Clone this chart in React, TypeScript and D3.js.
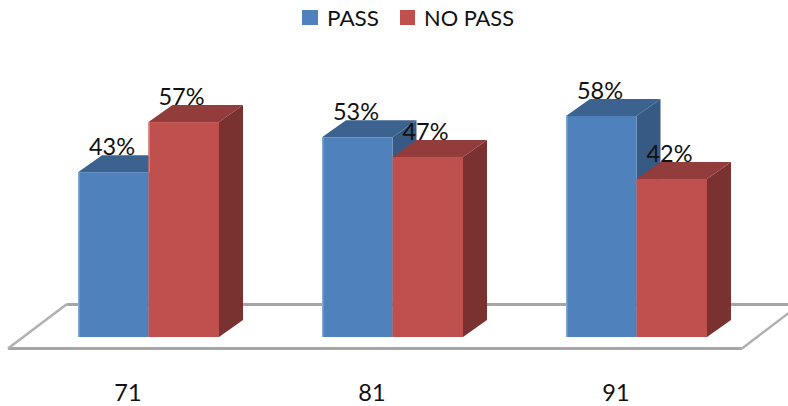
import React from "react";
import * as d3 from "d3";

const categories = ["71", "81", "91"];
const passValues = [43.4, 52.6, 58.2];
const noPassValues = [56.6, 47.4, 41.6];
const seriesNames = ["PASS", "NO PASS"];
const FONT = "Lato, 'Open Sans', sans-serif";

const W = 788, H = 406;
const base = 337, dx = 24, dy = 17;
const y = d3.scaleLinear().domain([0, 58.2]).range([base, 116]);
const groupX = d3.scalePoint<string>().domain(categories).range([78, 566]);
const colors = [
  { front: "#4f81bd", top: "#3c6390", side: "#375a84", edge: "#84a7d1" },
  { front: "#c0504d", top: "#923d3b", side: "#7a3230", edge: "#d67a77" },
];

function Bar({ x, w, v, c, edgeTo }: any) {
  const t = y(v);
  const edgeBottom = Math.max(t, edgeTo);
  return (
    <g>
      <path d={`M${x + w},${base}L${x + w + dx},${base - dy}L${x + w + dx},${t - dy}L${x + w},${t}Z`} fill={c.side} />
      <path d={`M${x},${t}L${x + dx},${t - dy}L${x + w + dx},${t - dy}L${x + w},${t}Z`} fill={c.top} />
      <rect x={x} y={t} width={w} height={base - t} fill={c.front} />
      <rect x={x} y={t} width={1.5} height={edgeBottom - t} fill={c.edge} />
    </g>
  );
}

export default function App() {
  const barW = 70.5;
  const fmt = (v: number) => `${Math.round(v)}%`;
  return (
    <svg width={W} height={H} viewBox={`0 0 ${W} ${H}`} style={{ position: "absolute", left: 0, top: 0, background: "#fff" }} fontFamily={FONT}>
      <g fill="none" stroke="#a6a6a6" strokeWidth={3}>
        <path d="M67,304.5L788,304.5" />
        <path d="M8,348.5L742,348.5" />
        <path d="M8,348.5L67,304" strokeWidth={2.5} stroke="#b0b0b0" />
        <path d="M742,348.5L790,312" strokeWidth={2.5} stroke="#b0b0b0" />
      </g>
      {categories.map((c, i) => {
        const left = groupX(c)!;
        return (
          <g key={c}>
            <Bar x={left} w={barW} v={passValues[i]} c={colors[0]} edgeTo={base} />
            <Bar x={left + barW} w={barW} v={noPassValues[i]} c={colors[1]} edgeTo={y(passValues[i])} />
            <text x={left + 34} y={y(passValues[i]) - 17} textAnchor="middle" fontSize={23.5} fill="#111">{fmt(passValues[i])}</text>
            <text x={left + barW + 33} y={y(noPassValues[i]) - 17} textAnchor="middle" fontSize={23.5} fill="#111">{fmt(noPassValues[i])}</text>
            <text x={left + 50} y={401} textAnchor="middle" fontSize={23.5} fill="#111">{c}</text>
          </g>
        );
      })}
      <rect x={302} y={10} width={16} height={15} fill={colors[0].front} />
      <text x={327} y={26} fontSize={22} fill="#111" textLength={52} lengthAdjust="spacingAndGlyphs">{seriesNames[0]}</text>
      <rect x={400} y={10} width={15} height={15} fill={colors[1].front} />
      <text x={424} y={26} fontSize={22} fill="#111" textLength={90} lengthAdjust="spacingAndGlyphs">{seriesNames[1]}</text>
    </svg>
  );
}
